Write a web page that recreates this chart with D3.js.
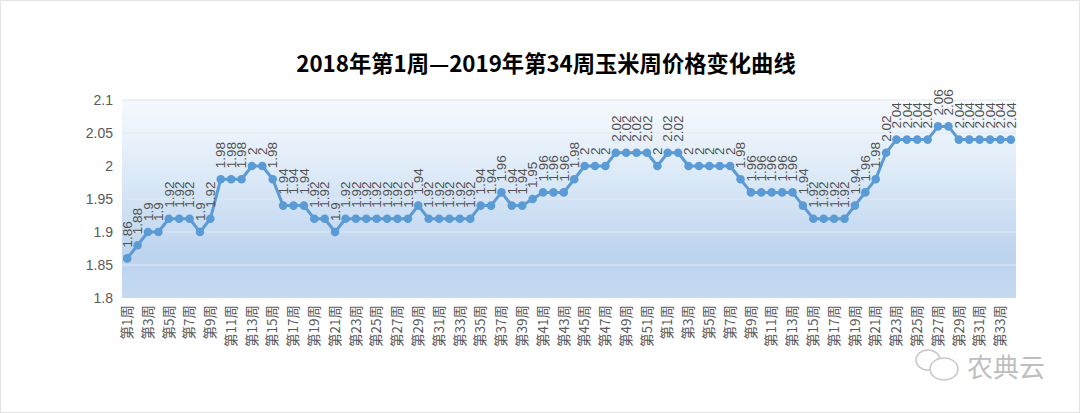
<!DOCTYPE html>
<html><head><meta charset="utf-8">
<script src="https://cdn.jsdelivr.net/npm/d3@7"></script>
<style>
html,body{margin:0;padding:0;background:#fff;}
svg{display:block;}
</style></head>
<body>
<script>
const title = "2018年第1周—2019年第34周玉米周价格变化曲线";
const weeks2018 = d3.range(1, 53).map(w => "第" + w + "周");
const weeks2019 = d3.range(1, 35).map(w => "第" + w + "周");
const prices2018 = [1.86,1.88,1.9,1.9,1.92,1.92,1.92,1.9,1.92,1.98,
  1.98,1.98,2,2,1.98,1.94,1.94,1.94,1.92,1.92,
  1.9,1.92,1.92,1.92,1.92,1.92,1.92,1.92,1.94,1.92,
  1.92,1.92,1.92,1.92,1.94,1.94,1.96,1.94,1.94,1.95,
  1.96,1.96,1.96,1.98,2,2,2,2.02,2.02,2.02,2.02,2];
const prices2019 = [2.02,2.02,2,2,2,2,2,1.98,1.96,1.96,
  1.96,1.96,1.96,1.94,1.92,1.92,1.92,1.92,1.94,1.96,
  1.98,2.02,2.04,2.04,2.04,2.04,2.06,2.06,2.04,2.04,
  2.04,2.04,2.04,2.04];
const yTicks = [1.8,1.85,1.9,1.95,2,2.05,2.1];

const categories = weeks2018.map((w,i)=>"2018-"+i).concat(weeks2019.map((w,i)=>"2019-"+i));
const labels = weeks2018.concat(weeks2019);
const values = prices2018.concat(prices2019);
const data = categories.map((c,i)=>({key:c, label:labels[i], value:values[i], idx:i}));

const W = 1080, H = 413;
const m = {left:122, right:1080-1016, top:100, bottom:413-298};
const svg = d3.select("body").append("svg").attr("width",W).attr("height",H);

const defs = svg.append("defs");
const grad = defs.append("linearGradient").attr("id","bg").attr("x1",0).attr("y1",0).attr("x2",0).attr("y2",1);
[["0%","#f6f9fd"],["35%","#deebf8"],["80%","#bcd3ee"],["100%","#c6daf1"]].forEach(([o,c])=>
  grad.append("stop").attr("offset",o).attr("stop-color",c));

const x = d3.scaleBand().domain(categories).range([m.left, W-m.right]).paddingInner(0).paddingOuter(0);
const y = d3.scaleLinear().domain([1.8,2.1]).range([H-m.bottom, m.top]);
const cx = d => x(d.key) + x.bandwidth()/2;

// frame
svg.append("rect").attr("x",0.5).attr("y",0.5).attr("width",W-1).attr("height",H-1)
  .attr("fill","none").attr("stroke","#e3e3e3");

// plot background
svg.append("rect").attr("x",m.left).attr("y",m.top)
  .attr("width",W-m.left-m.right).attr("height",H-m.top-m.bottom).attr("fill","url(#bg)");

// gridlines
svg.append("g").selectAll("line").data(yTicks.slice(1)).join("line")
  .attr("x1",m.left).attr("x2",W-m.right)
  .attr("y1",d=>y(d)).attr("y2",d=>y(d))
  .attr("stroke","#e2e8ef").attr("stroke-width",1.2);

// title
svg.append("text").attr("x",546).attr("y",72).attr("text-anchor","middle")
  .attr("font-family","'Noto Sans CJK SC', sans-serif").attr("font-weight","bold")
  .attr("font-size",22.3).attr("fill","#000").text(title);

// y axis
const yAxis = d3.axisLeft(y).tickValues(yTicks).tickSize(0).tickPadding(9)
  .tickFormat(d=>String(+d.toFixed(2)));
const yg = svg.append("g").attr("transform",`translate(${m.left},0)`).call(yAxis);
yg.select(".domain").remove();
yg.selectAll("text").attr("font-family","'Liberation Sans', Arial, sans-serif")
  .attr("font-size",14).attr("fill","#595959");

// x axis
const xAxis = d3.axisBottom(x).tickSize(0)
  .tickValues(categories.filter((c,i)=>i%2===0))
  .tickFormat(k=>labels[categories.indexOf(k)]);
const xg = svg.append("g").attr("transform",`translate(0,${H-m.bottom})`).call(xAxis);
xg.select(".domain").remove();
xg.selectAll("text")
  .attr("font-family","'Noto Sans CJK SC', sans-serif").attr("font-size",13.5).attr("fill","#595959")
  .attr("text-anchor","end").attr("dy","0.35em").attr("y",0)
  .attr("transform","translate(0,7) rotate(-90)");

// line
const line = d3.line().x(cx).y(d=>y(d.value));
svg.append("path").datum(data).attr("d",line)
  .attr("fill","none").attr("stroke","#5b9bd5").attr("stroke-width",3).attr("stroke-linejoin","round");

svg.append("g").selectAll("circle").data(data).join("circle")
  .attr("cx",cx).attr("cy",d=>y(d.value)).attr("r",4.3).attr("fill","#5b9bd5");

// data labels
svg.append("g").selectAll("text").data(data).join("text")
  .attr("transform",d=>`translate(${cx(d)},${y(d.value)-11}) rotate(-90)`)
  .attr("text-anchor","start").attr("dy","0.35em")
  .attr("font-family","'Liberation Sans', Arial, sans-serif").attr("font-size",13.5).attr("fill","#505050")
  .text(d=>String(d.value));

// watermark
const wm = svg.append("g").attr("opacity",0.55);
wm.append("ellipse").attr("cx",928).attr("cy",360).attr("rx",12).attr("ry",10).attr("fill","none").attr("stroke","#9a9a9a").attr("stroke-width",1.5);
wm.append("ellipse").attr("cx",944).attr("cy",369).attr("rx",14).attr("ry",11).attr("fill","#fff").attr("stroke","#9a9a9a").attr("stroke-width",1.5);
wm.append("text").attr("x",967).attr("y",377)
  .attr("font-family","'Noto Sans CJK SC', sans-serif").attr("font-size",26).attr("fill","#8a8a8a").text("农典云");
</script>
</body></html>
